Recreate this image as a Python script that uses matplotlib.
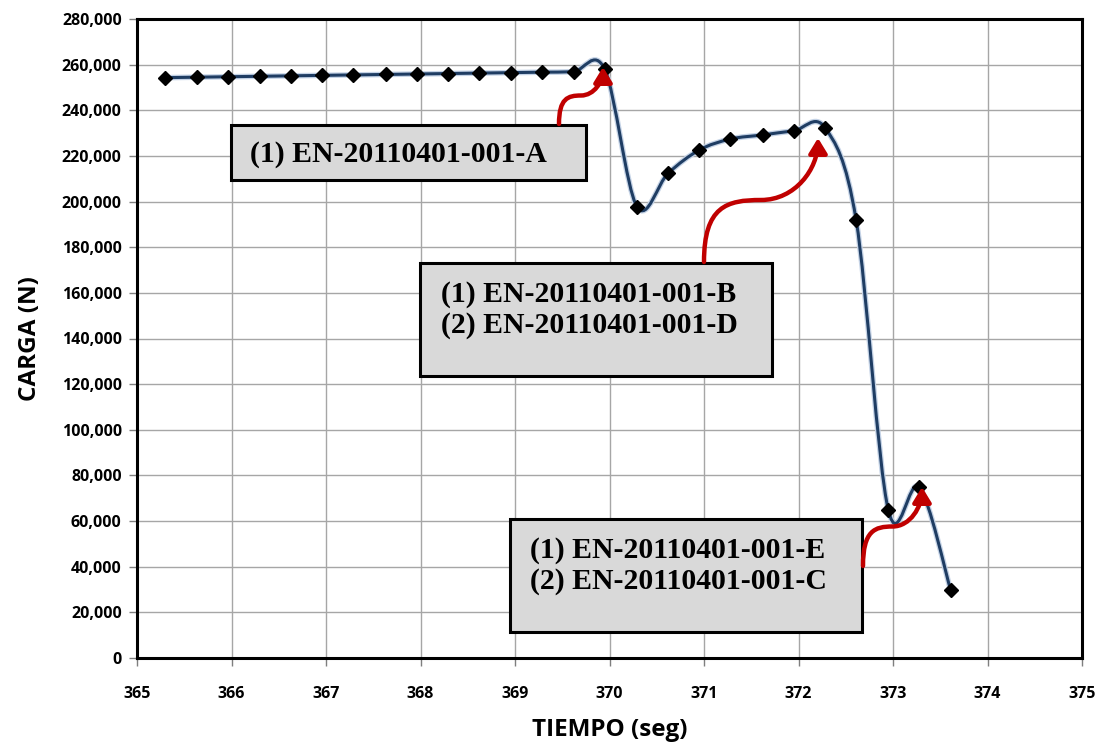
import matplotlib
matplotlib.use("Agg")
import matplotlib.pyplot as plt
from matplotlib.path import Path
from matplotlib.patches import PathPatch, FancyArrowPatch, Rectangle
from matplotlib.ticker import FuncFormatter, MultipleLocator
import numpy as np

# ---------------- data ----------------
tiempo = [365.30, 365.63, 365.96, 366.30, 366.63, 366.96, 367.29, 367.63,
          367.96, 368.29, 368.62, 368.96, 369.29, 369.62, 369.95, 370.29,
          370.62, 370.95, 371.28, 371.62, 371.95, 372.28, 372.61, 372.95,
          373.28, 373.61]
carga = [254300, 254500, 254700, 254900, 255100, 255300, 255500, 255700,
         255900, 256100, 256300, 256500, 256700, 256900, 257900, 197800,
         212400, 222600, 227400, 229200, 231000, 232400, 191900, 64900,
         74800, 29800]

xlabel = "TIEMPO (seg)"
ylabel = "CARGA (N)"
box_texts = ["(1) EN-20110401-001-A",
             "(1) EN-20110401-001-B\n(2) EN-20110401-001-D",
             "(1) EN-20110401-001-E\n(2) EN-20110401-001-C"]

plt.rcParams["font.family"] = ["Open Sans", "DejaVu Sans"]
plt.rcParams["font.weight"] = "bold"

W, H = 1099, 749
fig = plt.figure(figsize=(W / 100, H / 100), dpi=100)
ax = fig.add_axes([137 / W, 1 - 658 / H, (1082 - 137) / W, (658 - 19) / H])

ax.set_xlim(365, 375)
ax.set_ylim(0, 280000)
ax.xaxis.set_major_locator(MultipleLocator(1))
ax.yaxis.set_major_locator(MultipleLocator(20000))
ax.yaxis.set_major_formatter(FuncFormatter(lambda v, p: f"{int(v):,}"))
ax.grid(True, color="#a6a6a6", lw=1.0)
ax.set_axisbelow(True)
for s in ax.spines.values():
    s.set_color("black")
    s.set_linewidth(2.2)

ax.tick_params(axis="both", direction="out", length=6, width=1, color="#7f7f7f",
               labelsize=11.5)
ax.tick_params(axis="x", pad=14)
ax.tick_params(axis="y", pad=5)
for lab in ax.get_xticklabels() + ax.get_yticklabels():
    lab.set_fontweight("bold")

ax.set_xlabel(xlabel, weight="bold", size=17.5, labelpad=12)
ax.set_ylabel(ylabel, weight="bold", size=17.5, labelpad=14)

# ---------------- smoothed line (Catmull-Rom, like Excel smoothing) ----------------
x = np.array(tiempo)
y = np.array(carga, dtype=float)
n = len(x)
verts = [(x[0], y[0])]
codes = [Path.MOVETO]
for i in range(n - 1):
    p0 = np.array([x[max(i - 1, 0)], y[max(i - 1, 0)]])
    p1 = np.array([x[i], y[i]])
    p2 = np.array([x[i + 1], y[i + 1]])
    p3 = np.array([x[min(i + 2, n - 1)], y[min(i + 2, n - 1)]])
    c1 = p1 + (p2 - p0) / 6.0
    c2 = p2 - (p3 - p1) / 6.0
    verts += [tuple(c1), tuple(c2), tuple(p2)]
    codes += [Path.CURVE4] * 3
path = Path(verts, codes)
ax.add_patch(PathPatch(path, fill=False, edgecolor="#c5d3e6", lw=4.0, zorder=3, capstyle="round"))
ax.add_patch(PathPatch(path, fill=False, edgecolor="#1f3d63", lw=2.2, zorder=4, capstyle="round"))
ax.plot(x, y, linestyle="none", marker="D", markersize=7, color="black", zorder=5)

# ---------------- annotation boxes ----------------
def fx(px):
    return px / W

def fy(py):
    return 1 - py / H

boxes = [(231, 125, 586, 180), (420, 263, 772, 376), (510, 519, 862, 632)]
text_pos = [(250, 155), (441, 310), (530, 566)]
text_size = [21.4, 21.4, 21.4]
for (x0, y0, x1, y1), t, (tx, ty), ts in zip(boxes, box_texts, text_pos, text_size):
    fig.add_artist(Rectangle((fx(x0), fy(y1)), fx(x1) - fx(x0), fy(y0) - fy(y1),
                             transform=fig.transFigure, facecolor="#d9d9d9",
                             edgecolor="black", lw=2.2, zorder=6))
    fig.text(fx(tx), fy(ty), t, family=["Liberation Serif"], weight="bold",
             size=ts, va="center", ha="left", linespacing=1.2, zorder=7)

# ---------------- red curved arrows ----------------
def s_curve(x0, y0, x1, y1):
    xm, ym = (x0 + x1) / 2, (y0 + y1) / 2
    v = [(x0, y0),
         (x0, y0 + (ym - y0) * 0.9), (xm - (xm - x0) * 0.6, ym), (xm, ym),
         (xm + (x1 - xm) * 0.6, ym), (x1, ym + (y1 - ym) * 0.5), (x1, y1)]
    v = [fig.transFigure.transform((fx(a), fy(b))) for a, b in v]
    c = [Path.MOVETO] + [Path.CURVE4] * 6
    return Path(v, c)

arrows = [(559, 124, 603, 67), (704, 262, 818, 138), (863, 566, 922, 487)]
for (a0, b0, a1, b1) in arrows:
    p = s_curve(a0, b0, a1, b1)
    arr = FancyArrowPatch(path=p, arrowstyle="-|>,head_length=9,head_width=5.5",
                          color="#c00000", lw=3.2, transform=None, zorder=8,
                          shrinkA=0, shrinkB=0)
    fig.add_artist(arr)

fig.savefig("out.png", dpi=100)
